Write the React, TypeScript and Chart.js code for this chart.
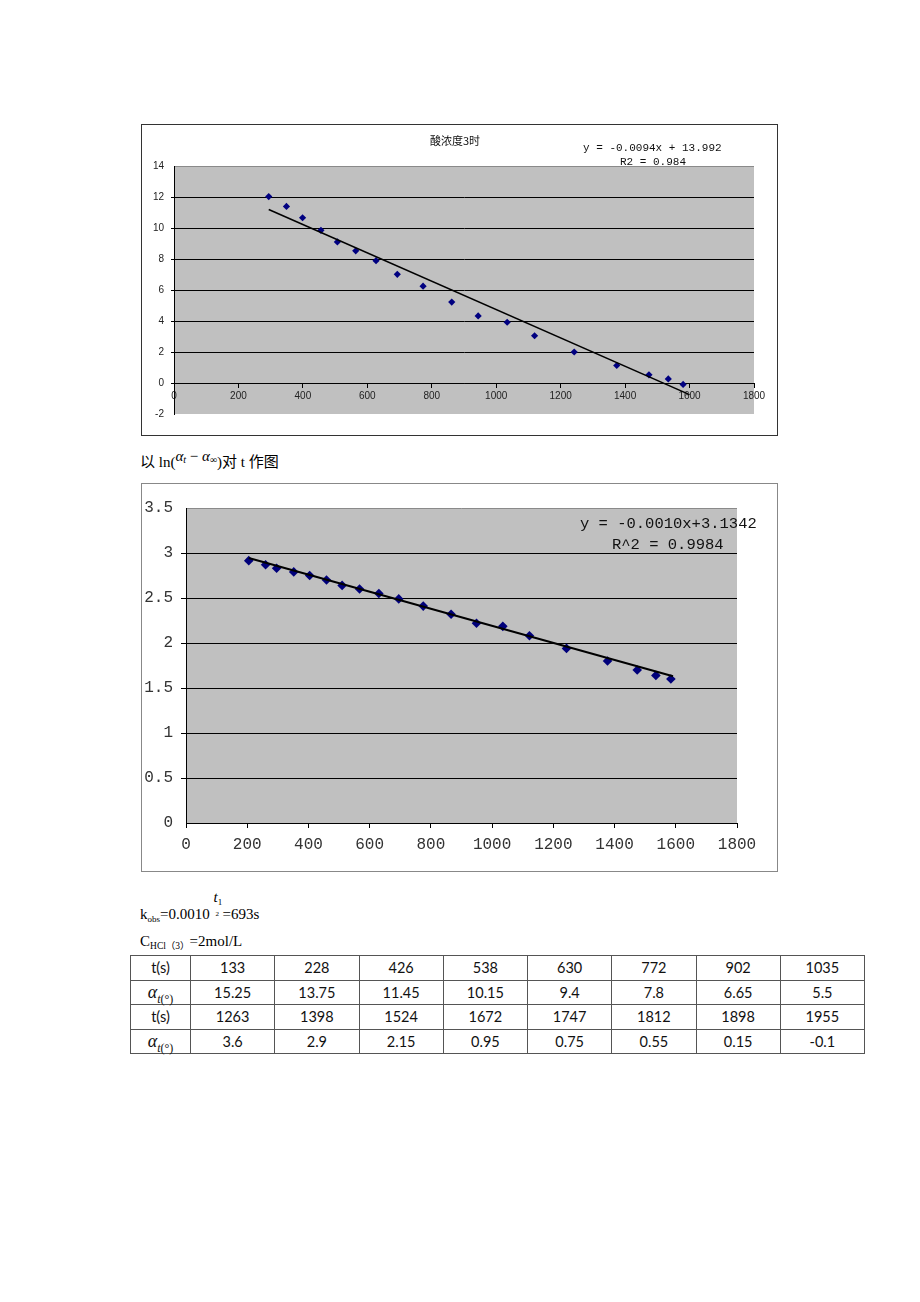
import React, { useEffect, useRef } from "react";
import { Chart, registerables } from "chart.js";
Chart.register(...registerables);

// ---------- data ----------
const chart1Title = "酸浓度3时";
const chart1X = [294, 349, 399, 456, 507, 564, 627, 693, 773, 862, 944, 1034, 1119, 1242, 1374, 1474, 1534, 1580];
const chart1Y = [12.03, 11.39, 10.66, 9.85, 9.1, 8.53, 7.89, 7.01, 6.25, 5.22, 4.33, 3.92, 3.05, 2.0, 1.13, 0.53, 0.26, -0.09];
const trend1X = [294, 1600];
const trend1Y = [11.2, -0.75];
const eq1Lines = ["y = -0.0094x + 13.992", "R2 = 0.984"];

const chart2X = [205, 260, 296, 352, 404, 459, 510, 567, 630, 695, 775, 866, 949, 1035, 1122, 1243, 1377, 1474, 1535, 1584];
const chart2Y = [2.915, 2.87, 2.83, 2.79, 2.75, 2.7, 2.64, 2.6, 2.55, 2.49, 2.41, 2.32, 2.22, 2.185, 2.08, 1.94, 1.8, 1.7, 1.64, 1.6];
const trend2X = [205, 1591];
const trend2Y = [2.944, 1.63];
const eq2Lines = ["y = -0.0010x+3.1342", "R^2 = 0.9984"];

const tRow1 = ["133", "228", "426", "538", "630", "772", "902", "1035"];
const aRow1 = ["15.25", "13.75", "11.45", "10.15", "9.4", "7.8", "6.65", "5.5"];
const tRow2 = ["1263", "1398", "1524", "1672", "1747", "1812", "1898", "1955"];
const aRow2 = ["3.6", "2.9", "2.15", "0.95", "0.75", "0.55", "0.15", "-0.1"];

// ---------- helpers ----------
const toPts = (xs: number[], ys: number[]) => xs.map((x, i) => ({ x, y: ys[i] }));
const plain = (v: any) => String(v);

const plotBg = {
  id: "plotBg",
  beforeDraw(chart: any) {
    const { ctx, chartArea: a } = chart;
    ctx.save();
    ctx.fillStyle = "#C0C0C0";
    ctx.fillRect(a.left, a.top, a.right - a.left, a.bottom - a.top);
    ctx.strokeStyle = "#8a8a8a";
    ctx.lineWidth = 1;
    ctx.beginPath();
    ctx.moveTo(a.left, a.top + 0.5);
    ctx.lineTo(a.right, a.top + 0.5);
    ctx.stroke();
    ctx.restore();
  },
};

function config1(): any {
  return {
    type: "scatter",
    data: {
      datasets: [
        {
          data: toPts(trend1X, trend1Y),
          showLine: true,
          borderColor: "#000",
          borderWidth: 1.6,
          pointRadius: 0,
          order: 0,
        },
        {
          data: toPts(chart1X, chart1Y),
          pointStyle: "rectRot",
          pointRadius: 3.6,
          backgroundColor: "#000080",
          borderColor: "#000080",
          borderWidth: 0,
          order: 1,
        },
      ],
    },
    options: {
      responsive: false,
      animation: false,
      devicePixelRatio: 1,
      events: [],
      layout: { padding: { left: 0, right: 23, top: 41, bottom: 21 } },
      plugins: { legend: { display: false }, tooltip: { enabled: false } },
      scales: {
        x: {
          type: "linear",
          position: { y: 0 },
          min: 0,
          max: 1800,
          ticks: {
            stepSize: 200,
            font: { family: "Liberation Sans", size: 10 },
            color: "#222",
            padding: 3,
            maxRotation: 0,
            autoSkip: false,
            callback: plain,
          },
          grid: { drawOnChartArea: false, tickLength: 4, color: "#000" },
          border: { color: "#000", width: 1 },
          afterFit(s: any) {
            s.paddingLeft = 0;
            s.paddingRight = 0;
          },
        },
        y: {
          type: "linear",
          position: "left",
          min: -2,
          max: 14,
          ticks: {
            stepSize: 2,
            font: { family: "Liberation Sans", size: 10 },
            color: "#222",
            padding: 7,
            callback: plain,
          },
          grid: {
            tickLength: 3,
            color: (c: any) =>
              c.tick && (c.tick.value === 14 || c.tick.value === -2) ? "rgba(0,0,0,0)" : "#000",
          },
          border: { color: "#000", width: 1 },
          afterFit(s: any) {
            s.width = 32;
          },
        },
      },
    },
    plugins: [plotBg],
  };
}

function config2(): any {
  return {
    type: "scatter",
    data: {
      datasets: [
        {
          data: toPts(trend2X, trend2Y),
          showLine: true,
          borderColor: "#000",
          borderWidth: 2,
          pointRadius: 0,
          order: 0,
        },
        {
          data: toPts(chart2X, chart2Y),
          pointStyle: "rectRot",
          pointRadius: 4.8,
          backgroundColor: "#00007a",
          borderColor: "#00007a",
          borderWidth: 0,
          order: 1,
        },
      ],
    },
    options: {
      responsive: false,
      animation: false,
      devicePixelRatio: 1,
      events: [],
      layout: { padding: { left: 0, right: 40, top: 24, bottom: 0 } },
      plugins: { legend: { display: false }, tooltip: { enabled: false } },
      scales: {
        x: {
          type: "linear",
          position: "bottom",
          min: 0,
          max: 1800,
          ticks: {
            stepSize: 200,
            font: { family: "Liberation Mono", size: 16 },
            color: "#333",
            padding: 7,
            maxRotation: 0,
            autoSkip: false,
            callback: plain,
          },
          grid: { drawOnChartArea: false, tickLength: 5, color: "#000" },
          border: { color: "#000", width: 1 },
          afterFit(s: any) {
            s.height = 48;
            s.paddingLeft = 0;
            s.paddingRight = 0;
          },
        },
        y: {
          type: "linear",
          position: "left",
          min: 0,
          max: 3.5,
          ticks: {
            stepSize: 0.5,
            font: { family: "Liberation Mono", size: 16 },
            color: "#333",
            padding: 8,
            callback: plain,
          },
          grid: {
            tickLength: 5,
            color: (c: any) =>
              c.tick && (c.tick.value === 3.5 || c.tick.value === 0) ? "rgba(0,0,0,0)" : "#000",
          },
          border: { color: "#000", width: 1 },
          afterFit(s: any) {
            s.width = 44;
          },
        },
      },
    },
    plugins: [plotBg],
  };
}

function ChartCanvas(props: { make: () => any; left: number; top: number; width: number; height: number }) {
  const ref = useRef<HTMLCanvasElement>(null);
  useEffect(() => {
    const chart = new Chart(ref.current as HTMLCanvasElement, props.make());
    return () => chart.destroy();
  }, []);
  return (
    <canvas
      ref={ref}
      width={props.width}
      height={props.height}
      style={{ position: "absolute", left: props.left, top: props.top, width: props.width, height: props.height }}
    />
  );
}

const abs = (left: number, top: number, extra: React.CSSProperties = {}): React.CSSProperties => ({
  position: "absolute",
  left,
  top,
  whiteSpace: "nowrap",
  ...extra,
});

const serif = "'Liberation Serif', 'Noto Sans CJK SC', serif";
const mono = "'Liberation Mono', 'DejaVu Sans Mono', monospace";

function AlphaLabel() {
  return (
    <span>
      <span style={{ fontFamily: serif, fontStyle: "italic", fontSize: 18 }}>α</span>
      <span style={{ fontFamily: serif, fontSize: 12, position: "relative", top: 5 }}>
        <i>t</i>(°)
      </span>
    </span>
  );
}

function DataTable() {
  const rows: { label: React.ReactNode; vals: string[] }[] = [
    { label: "t(s)", vals: tRow1 },
    { label: <AlphaLabel />, vals: aRow1 },
    { label: "t(s)", vals: tRow2 },
    { label: <AlphaLabel />, vals: aRow2 },
  ];
  const cell: React.CSSProperties = {
    border: "1px solid #555",
    height: 23.5,
    padding: 0,
    textAlign: "center",
    verticalAlign: "middle",
    fontFamily: "Lato, 'Open Sans', sans-serif",
    fontSize: 14.5,
    color: "#111",
  };
  return (
    <table
      style={{
        position: "absolute",
        left: 130,
        top: 955,
        width: 734,
        borderCollapse: "collapse",
        tableLayout: "fixed",
      }}
    >
      <colgroup>
        <col style={{ width: 60 }} />
        {tRow1.map((_, i) => (
          <col key={i} style={{ width: 84.25 }} />
        ))}
      </colgroup>
      <tbody>
        {rows.map((r, ri) => (
          <tr key={ri}>
            <td style={cell}>{r.label}</td>
            {r.vals.map((v, i) => (
              <td key={i} style={cell}>
                {v}
              </td>
            ))}
          </tr>
        ))}
      </tbody>
    </table>
  );
}

export default function App() {
  return (
    <div style={{ position: "absolute", left: 0, top: 0, width: 920, height: 1302, background: "#fff", overflow: "hidden" }}>
      {/* Chart 1 */}
      <div style={abs(141, 124, { width: 635, height: 310, border: "1px solid #333" })} />
      <ChartCanvas make={config1} left={142} top={125} width={635} height={310} />
      <div
        style={abs(405, 133, {
          width: 100,
          textAlign: "center",
          fontFamily: "'Noto Sans CJK SC', sans-serif",
          fontSize: 11,
          lineHeight: "14px",
          color: "#111",
        })}
      >
        {chart1Title}
      </div>
      <div style={abs(583, 141, { fontFamily: mono, fontSize: 11, lineHeight: "14px", color: "#111" })}>{eq1Lines[0]}</div>
      <div style={abs(620, 155, { fontFamily: mono, fontSize: 11, lineHeight: "14px", color: "#111" })}>{eq1Lines[1]}</div>

      {/* caption */}
      <div style={abs(140, 452, { fontFamily: serif, fontSize: 15, lineHeight: "20px", color: "#000" })}>
        以 ln(
        <span style={{ position: "relative", top: -6, fontSize: 15 }}>
          <i>α</i>
          <sub style={{ fontSize: 10, verticalAlign: "baseline", position: "relative", top: 2 }}>
            <i>t</i>
          </sub>
          {" − "}
          <i>α</i>
          <sub style={{ fontSize: 10, verticalAlign: "baseline", position: "relative", top: 2 }}>∞</sub>
        </span>
        )对 t 作图
      </div>

      {/* Chart 2 */}
      <div style={abs(141, 483, { width: 635, height: 387, border: "1px solid #888" })} />
      <ChartCanvas make={config2} left={142} top={484} width={635} height={387} />
      <div style={abs(580, 515, { fontFamily: mono, fontSize: 15.5, lineHeight: "18px", color: "#111" })}>{eq2Lines[0]}</div>
      <div style={abs(612, 536, { fontFamily: mono, fontSize: 15.5, lineHeight: "18px", color: "#111" })}>{eq2Lines[1]}</div>

      {/* text lines */}
      <div style={abs(140, 904, { fontFamily: serif, fontSize: 15, lineHeight: "20px", color: "#000" })}>
        k<sub style={{ fontSize: 9, verticalAlign: "baseline", position: "relative", top: 3 }}>obs</sub>=0.0010{" "}
        <span style={{ position: "relative", display: "inline-block", width: 9 }}>
          <span style={{ position: "absolute", left: 0, top: -17, fontStyle: "italic" }}>
            t<span style={{ fontSize: 9, fontStyle: "normal", position: "relative", top: 3 }}>1</span>
          </span>
          <span style={{ fontSize: 7, position: "relative", left: 2, top: -3 }}>2</span>
        </span>
        =693s
      </div>
      <div style={abs(140, 931, { fontFamily: serif, fontSize: 15, lineHeight: "20px", color: "#000" })}>
        C<sub style={{ fontSize: 9.5, verticalAlign: "baseline", position: "relative", top: 3 }}>HCl（3）</sub>=2mol/L
      </div>

      <DataTable />
    </div>
  );
}
